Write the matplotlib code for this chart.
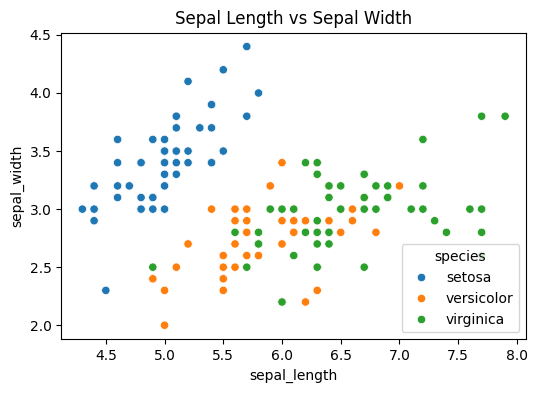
import matplotlib
matplotlib.use("Agg")
import matplotlib.pyplot as plt
import pandas as pd
import seaborn as sns

# iris sepal measurements, per species
setosa_len = [5.1, 4.9, 4.7, 4.6, 5.0, 5.4, 4.6, 5.0, 4.4, 4.9, 5.4, 4.8, 4.8, 4.3, 5.8,
              5.7, 5.4, 5.1, 5.7, 5.1, 5.4, 5.1, 4.6, 5.1, 4.8, 5.0, 5.0, 5.2, 5.2, 4.7,
              4.8, 5.4, 5.2, 5.5, 4.9, 5.0, 5.5, 4.9, 4.4, 5.1, 5.0, 4.5, 4.4, 5.0, 5.1,
              4.8, 5.1, 4.6, 5.3, 5.0]
setosa_wid = [3.5, 3.0, 3.2, 3.1, 3.6, 3.9, 3.4, 3.4, 2.9, 3.1, 3.7, 3.4, 3.0, 3.0, 4.0,
              4.4, 3.9, 3.5, 3.8, 3.8, 3.4, 3.7, 3.6, 3.3, 3.4, 3.0, 3.4, 3.5, 3.4, 3.2,
              3.1, 3.4, 4.1, 4.2, 3.1, 3.2, 3.5, 3.6, 3.0, 3.4, 3.5, 2.3, 3.2, 3.5, 3.8,
              3.0, 3.8, 3.2, 3.7, 3.3]
versicolor_len = [7.0, 6.4, 6.9, 5.5, 6.5, 5.7, 6.3, 4.9, 6.6, 5.2, 5.0, 5.9, 6.0, 6.1, 5.6,
                  6.7, 5.6, 5.8, 6.2, 5.6, 5.9, 6.1, 6.3, 6.1, 6.4, 6.6, 6.8, 6.7, 6.0, 5.7,
                  5.5, 5.5, 5.8, 6.0, 5.4, 6.0, 6.7, 6.3, 5.6, 5.5, 5.5, 6.1, 5.8, 5.0, 5.6,
                  5.7, 5.7, 6.2, 5.1, 5.7]
versicolor_wid = [3.2, 3.2, 3.1, 2.3, 2.8, 2.8, 3.3, 2.4, 2.9, 2.7, 2.0, 3.0, 2.2, 2.9, 2.9,
                  3.1, 3.0, 2.7, 2.2, 2.5, 3.2, 2.8, 2.5, 2.8, 2.9, 3.0, 2.8, 3.0, 2.9, 2.6,
                  2.4, 2.4, 2.7, 2.7, 3.0, 3.4, 3.1, 2.3, 3.0, 2.5, 2.6, 3.0, 2.6, 2.3, 2.7,
                  3.0, 2.9, 2.9, 2.5, 2.8]
virginica_len = [6.3, 5.8, 7.1, 6.3, 6.5, 7.6, 4.9, 7.3, 6.7, 7.2, 6.5, 6.4, 6.8, 5.7, 5.8,
                 6.4, 6.5, 7.7, 7.7, 6.0, 6.9, 5.6, 7.7, 6.3, 6.7, 7.2, 6.2, 6.1, 6.4, 7.2,
                 7.4, 7.9, 6.4, 6.3, 6.1, 7.7, 6.3, 6.4, 6.0, 6.9, 6.7, 6.9, 5.8, 6.8, 6.7,
                 6.7, 6.3, 6.5, 6.2, 5.9]
virginica_wid = [3.3, 2.7, 3.0, 2.9, 3.0, 3.0, 2.5, 2.9, 2.5, 3.6, 3.2, 2.7, 3.0, 2.5, 2.8,
                 3.2, 3.0, 3.8, 2.6, 2.2, 3.2, 2.8, 2.8, 2.7, 3.3, 3.2, 2.8, 3.0, 2.8, 3.0,
                 2.8, 3.8, 2.8, 2.8, 2.6, 3.0, 3.4, 3.1, 3.0, 3.1, 3.1, 3.1, 2.7, 3.2, 3.3,
                 3.0, 2.5, 3.0, 3.4, 3.0]

df = pd.DataFrame({
    "sepal_length": setosa_len + versicolor_len + virginica_len,
    "sepal_width": setosa_wid + versicolor_wid + virginica_wid,
    "species": ["setosa"] * len(setosa_len) + ["versicolor"] * len(versicolor_len)
               + ["virginica"] * len(virginica_len),
})

fig, ax = plt.subplots(figsize=(5.37, 3.93), dpi=100)
fig.subplots_adjust(left=0.114, right=0.980, top=0.917, bottom=0.137)

sns.scatterplot(data=df, x="sepal_length", y="sepal_width", hue="species", ax=ax)
ax.set_title("Sepal Length vs Sepal Width")
ax.legend(title="species", loc="lower right")

fig.savefig("out.png", dpi=100)
